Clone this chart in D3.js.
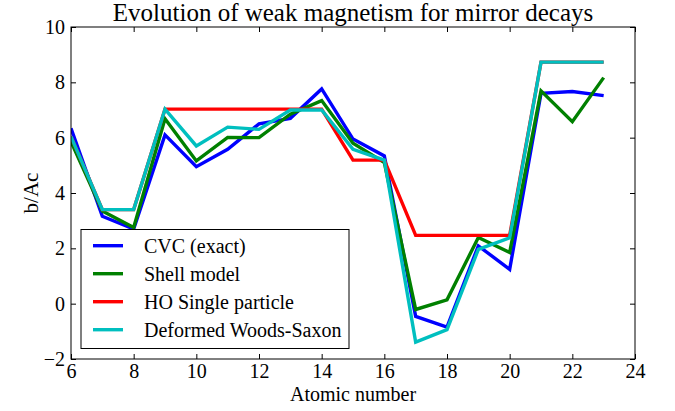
<!DOCTYPE html>
<html><head><meta charset="utf-8">
<script src="https://cdn.jsdelivr.net/npm/d3@7"></script>
<style>body{margin:0;background:#fff}svg{display:block}text{font-family:"Liberation Serif","DejaVu Serif",serif;fill:#000}</style>
</head><body>
<svg id="chart" width="675" height="411"></svg>
<script>
const atomicNumbers = [6,7,8,9,10,11,12,13,14,15,16,17,18,19,20,21,22,23];
const cvc =      [6.34,3.16,2.7,6.1,4.95,5.58,6.5,6.7,7.76,5.95,5.34,-0.46,-0.85,2.09,1.24,7.6,7.67,7.52];
const shell =    [5.86,3.35,2.75,6.68,5.16,6.01,6.0,6.85,7.34,5.8,5.1,-0.21,0.14,2.39,1.85,7.69,6.58,8.17];
const hoSingle = [6.04,3.4,3.4,7.03,7.03,7.03,7.03,7.03,7.03,5.19,5.19,2.47,2.47,2.47,2.47,8.73,8.73,8.73];
const woodsSaxon=[6.04,3.4,3.4,7.03,5.7,6.38,6.3,7.0,7.0,5.58,5.19,-1.39,-0.94,1.96,2.38,8.73,8.73,8.73];
const seriesNames = ["CVC (exact)","Shell model","HO Single particle","Deformed Woods-Saxon"];
const seriesColors = ["#0000ff","#008000","#ff0000","#00bfbf"];
const xTicks = [6,8,10,12,14,16,18,20,22,24];
const yTicks = [-2,0,2,4,6,8,10];

const svg = d3.select("#chart");
const m = {l:71, t:27, r:635, b:359};
const x = d3.scaleLinear().domain([6,24]).range([m.l,m.r]);
const y = d3.scaleLinear().domain([-2,10]).range([m.b,m.t]);

const tl = 5;
const axB = d3.axisBottom(x).tickValues(xTicks).tickSizeInner(-tl).tickSizeOuter(0).tickPadding(5).tickFormat(d3.format("d"));
const axT = d3.axisTop(x).tickValues(xTicks).tickSizeInner(-tl).tickSizeOuter(0).tickFormat("");
const axL = d3.axisLeft(y).tickValues(yTicks).tickSizeInner(-tl).tickSizeOuter(0).tickPadding(6).tickFormat(d => d < 0 ? "\u2212" + Math.abs(d) : d);
const axR = d3.axisRight(y).tickValues(yTicks).tickSizeInner(-tl).tickSizeOuter(0).tickFormat("");

function styleAxis(g){
  g.select(".domain").remove();
  g.selectAll("line").attr("stroke","#000").attr("stroke-width",1);
  g.selectAll("text").style("font-size","20px").attr("fill","#000");
}
svg.append("g").attr("transform",`translate(0,${m.b})`).call(axB).call(styleAxis);
svg.append("g").attr("transform",`translate(0,${m.t})`).call(axT).call(styleAxis);
svg.append("g").attr("transform",`translate(${m.l},0)`).call(axL).call(styleAxis);
svg.append("g").attr("transform",`translate(${m.r},0)`).call(axR).call(styleAxis);

svg.append("clipPath").attr("id","clip").append("rect")
  .attr("x",m.l).attr("y",m.t).attr("width",m.r-m.l).attr("height",m.b-m.t);

const allSeries = [cvc, shell, hoSingle, woodsSaxon];
const line = d3.line().x((d,i)=>x(atomicNumbers[i])).y(d=>y(d));
allSeries.forEach((s,k)=>{
  svg.append("path").datum(s).attr("d",line)
    .attr("fill","none").attr("stroke",seriesColors[k]).attr("stroke-width",3.4)
    .attr("stroke-linejoin","miter").attr("clip-path","url(#clip)");
});

svg.append("rect").attr("x",m.l).attr("y",m.t).attr("width",m.r-m.l).attr("height",m.b-m.t)
  .attr("fill","none").attr("stroke","#000").attr("stroke-width",1);

const lg = svg.append("g");
lg.append("rect").attr("x",81).attr("y",229.5).attr("width",268).attr("height",119)
  .attr("fill","#fff").attr("stroke","#000").attr("stroke-width",1);
seriesNames.forEach((n,i)=>{
  const yy = 245.7 + i*28;
  lg.append("line").attr("x1",93).attr("x2",123).attr("y1",yy).attr("y2",yy)
    .attr("stroke",seriesColors[i]).attr("stroke-width",3.4);
  lg.append("text").attr("x",144).attr("y",yy).attr("dy","0.35em").style("font-size","20px").text(n);
});

svg.append("text").attr("x",(m.l+m.r)/2).attr("y",21).attr("text-anchor","middle").style("font-size","25px")
  .text("Evolution of weak magnetism for mirror decays");
svg.append("text").attr("x",(m.l+m.r)/2).attr("y",401).attr("text-anchor","middle").style("font-size","20px")
  .text("Atomic number");
svg.append("text").attr("transform",`translate(38,${(m.t+m.b)/2}) rotate(-90)`).attr("text-anchor","middle").style("font-size","21px")
  .text("b/Ac");
</script>
</body></html>
